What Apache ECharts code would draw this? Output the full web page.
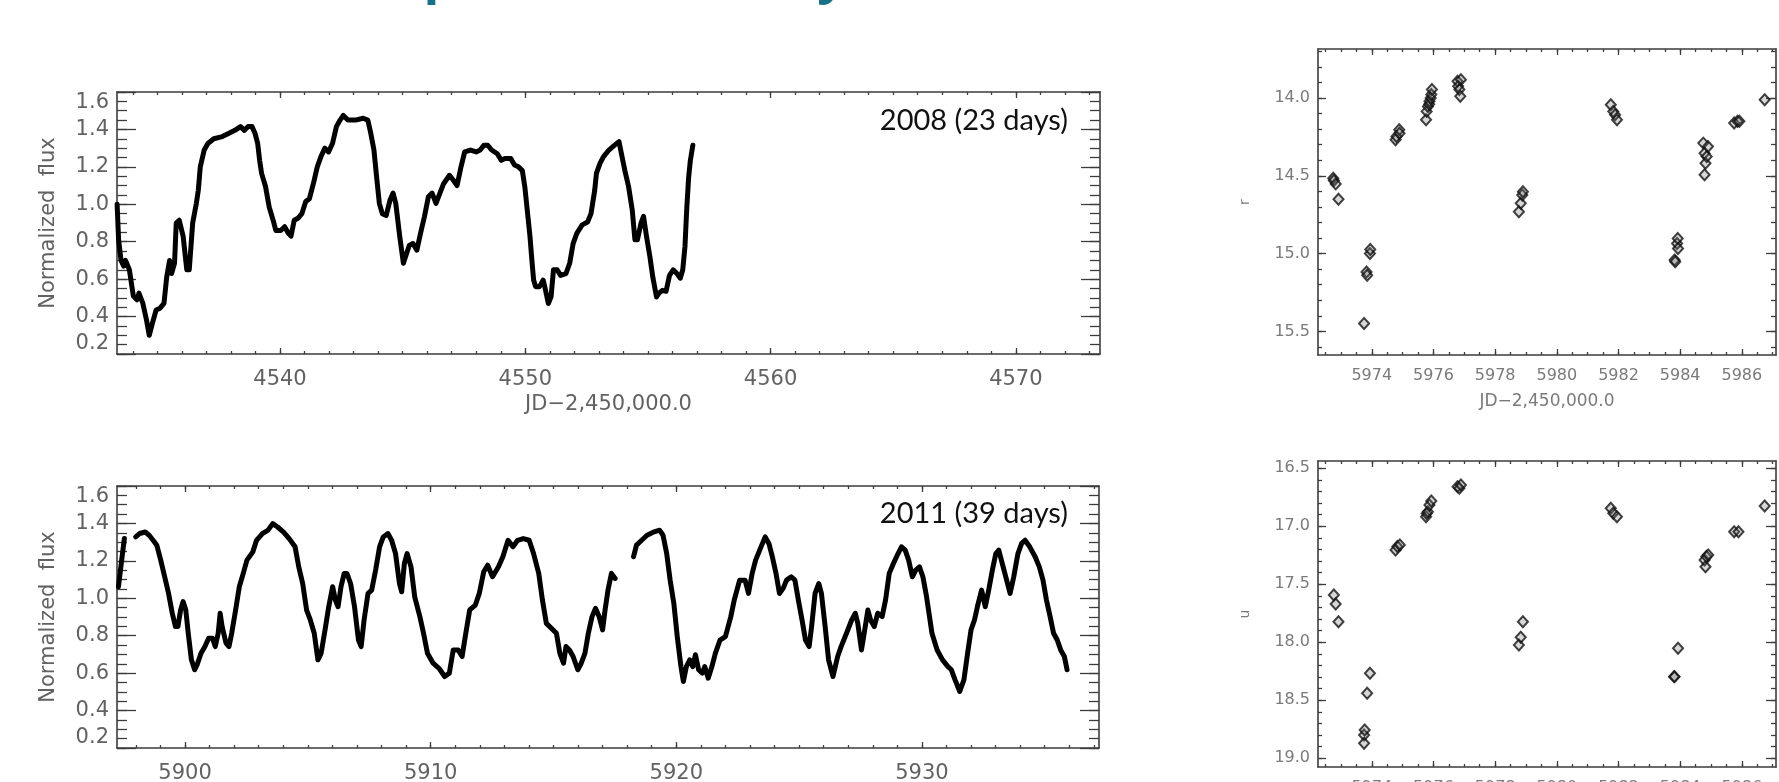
<!DOCTYPE html>
<html><head><meta charset="utf-8">
<script src="https://cdn.jsdelivr.net/npm/echarts@6/dist/echarts.min.js"></script>
<style>html,body{margin:0;padding:0;background:#fff;}#c{width:1779px;height:782px;}</style>
</head><body><div id="c"></div>
<script>
// ---------- DATA ----------
const curve2008 = [[4533.36,1.00],[4533.42,0.81],[4533.52,0.70],[4533.63,0.67],[4533.70,0.70],[4533.86,0.65],[4534.02,0.51],[4534.17,0.49],[4534.25,0.525],[4534.41,0.47],[4534.56,0.38],[4534.67,0.30],[4534.80,0.365],[4534.95,0.435],[4535.11,0.445],[4535.27,0.47],[4535.38,0.61],[4535.50,0.70],[4535.58,0.63],[4535.70,0.685],[4535.77,0.90],[4535.89,0.915],[4536.05,0.83],[4536.20,0.65],[4536.30,0.65],[4536.36,0.755],[4536.44,0.90],[4536.59,1.005],[4536.67,1.075],[4536.75,1.20],[4536.91,1.29],[4537.06,1.325],[4537.30,1.35],[4537.61,1.36],[4537.92,1.38],[4538.16,1.395],[4538.39,1.415],[4538.55,1.395],[4538.70,1.415],[4538.86,1.415],[4538.98,1.38],[4539.09,1.325],[4539.17,1.235],[4539.25,1.165],[4539.41,1.095],[4539.56,0.985],[4539.72,0.915],[4539.83,0.86],[4540.03,0.86],[4540.19,0.88],[4540.34,0.845],[4540.45,0.83],[4540.58,0.915],[4540.73,0.925],[4540.89,0.95],[4541.05,1.015],[4541.20,1.03],[4541.36,1.11],[4541.52,1.20],[4541.67,1.255],[4541.83,1.30],[4541.98,1.28],[4542.14,1.325],[4542.30,1.415],[4542.45,1.45],[4542.58,1.475],[4542.77,1.45],[4543.08,1.45],[4543.39,1.46],[4543.58,1.45],[4543.70,1.38],[4543.83,1.29],[4543.94,1.145],[4544.05,1.005],[4544.17,0.95],[4544.33,0.94],[4544.48,1.02],[4544.61,1.06],[4544.72,1.005],[4544.88,0.83],[4545.03,0.685],[4545.11,0.695],[4545.27,0.78],[4545.42,0.79],[4545.58,0.755],[4545.73,0.845],[4545.89,0.935],[4546.05,1.04],[4546.20,1.06],[4546.36,1.005],[4546.52,1.06],[4546.67,1.11],[4546.91,1.155],[4547.06,1.13],[4547.22,1.10],[4547.38,1.20],[4547.53,1.28],[4547.77,1.29],[4548.00,1.28],[4548.16,1.29],[4548.31,1.315],[4548.47,1.315],[4548.63,1.29],[4548.86,1.27],[4549.02,1.235],[4549.17,1.245],[4549.41,1.245],[4549.56,1.21],[4549.72,1.20],[4549.88,1.18],[4549.98,1.095],[4550.08,0.97],[4550.19,0.83],[4550.27,0.70],[4550.34,0.595],[4550.42,0.56],[4550.58,0.56],[4550.73,0.595],[4550.81,0.55],[4550.94,0.47],[4551.05,0.505],[4551.15,0.65],[4551.30,0.65],[4551.44,0.62],[4551.66,0.63],[4551.81,0.685],[4551.95,0.79],[4552.10,0.845],[4552.32,0.89],[4552.54,0.905],[4552.68,0.95],[4552.83,1.075],[4552.90,1.165],[4553.05,1.22],[4553.19,1.255],[4553.41,1.29],[4553.63,1.315],[4553.82,1.335],[4553.92,1.27],[4554.06,1.18],[4554.21,1.095],[4554.36,0.97],[4554.47,0.81],[4554.57,0.81],[4554.72,0.90],[4554.82,0.935],[4554.94,0.83],[4555.08,0.72],[4555.20,0.61],[4555.35,0.505],[4555.45,0.525],[4555.59,0.54],[4555.74,0.535],[4555.88,0.62],[4556.03,0.65],[4556.18,0.63],[4556.32,0.605],[4556.42,0.65],[4556.51,0.775],[4556.58,0.97],[4556.66,1.145],[4556.73,1.235],[4556.83,1.315]];

const curve2011 = [[5897.29,1.062],[5897.42,1.204],[5897.53,1.319],[5897.76,null],[5897.99,1.328],[5898.15,1.346],[5898.38,1.354],[5898.54,1.337],[5898.70,1.310],[5898.85,1.284],[5899.01,1.204],[5899.17,1.115],[5899.33,1.026],[5899.48,0.920],[5899.61,0.849],[5899.71,0.849],[5899.82,0.938],[5899.92,0.982],[5900.03,0.938],[5900.13,0.813],[5900.26,0.671],[5900.39,0.618],[5900.49,0.644],[5900.65,0.706],[5900.81,0.742],[5900.96,0.786],[5901.12,0.786],[5901.23,0.742],[5901.35,0.813],[5901.43,0.920],[5901.51,0.849],[5901.67,0.760],[5901.79,0.742],[5901.90,0.813],[5902.06,0.938],[5902.21,1.062],[5902.37,1.133],[5902.52,1.204],[5902.76,1.248],[5902.91,1.310],[5903.15,1.346],[5903.38,1.364],[5903.57,1.399],[5903.77,1.381],[5904.01,1.354],[5904.24,1.319],[5904.48,1.275],[5904.63,1.168],[5904.79,1.079],[5904.95,0.937],[5905.10,0.884],[5905.26,0.813],[5905.41,0.671],[5905.54,0.706],[5905.70,0.831],[5905.85,0.955],[5906.01,1.062],[5906.12,0.991],[5906.23,0.955],[5906.35,1.062],[5906.48,1.133],[5906.59,1.133],[5906.74,1.079],[5906.90,0.955],[5907.06,0.777],[5907.17,0.742],[5907.29,0.884],[5907.45,1.026],[5907.60,1.044],[5907.76,1.151],[5907.92,1.275],[5908.07,1.328],[5908.26,1.346],[5908.41,1.310],[5908.57,1.239],[5908.73,1.079],[5908.82,1.035],[5908.93,1.186],[5909.04,1.239],[5909.20,1.168],[5909.35,1.008],[5909.56,0.902],[5909.71,0.813],[5909.87,0.706],[5910.10,0.653],[5910.34,0.626],[5910.57,0.582],[5910.76,0.600],[5910.92,0.724],[5911.12,0.724],[5911.28,0.689],[5911.43,0.813],[5911.59,0.938],[5911.82,0.964],[5911.98,1.026],[5912.16,1.142],[5912.32,1.177],[5912.52,1.115],[5912.76,1.168],[5912.94,1.222],[5913.15,1.310],[5913.35,1.275],[5913.54,1.310],[5913.77,1.319],[5914.01,1.310],[5914.19,1.239],[5914.40,1.133],[5914.55,0.991],[5914.71,0.866],[5915.12,0.813],[5915.26,0.706],[5915.41,0.653],[5915.51,0.742],[5915.65,0.724],[5915.80,0.689],[5915.99,0.618],[5916.13,0.653],[5916.28,0.706],[5916.42,0.813],[5916.57,0.902],[5916.71,0.946],[5916.86,0.902],[5917.00,0.831],[5917.10,0.937],[5917.22,1.044],[5917.36,1.133],[5917.51,1.106],[5917.90,null],[5918.26,1.222],[5918.38,1.284],[5918.59,1.310],[5918.81,1.337],[5919.10,1.355],[5919.32,1.364],[5919.46,1.337],[5919.61,1.239],[5919.75,1.097],[5919.90,0.973],[5920.04,0.795],[5920.19,0.635],[5920.29,0.555],[5920.41,0.635],[5920.55,0.671],[5920.67,0.635],[5920.78,0.698],[5920.91,0.618],[5921.06,0.600],[5921.16,0.635],[5921.30,0.573],[5921.45,0.635],[5921.59,0.706],[5921.78,0.777],[5922.00,0.795],[5922.22,0.902],[5922.36,0.991],[5922.58,1.097],[5922.80,1.097],[5922.94,1.026],[5923.09,1.133],[5923.23,1.204],[5923.45,1.275],[5923.62,1.328],[5923.77,1.293],[5923.91,1.222],[5924.06,1.133],[5924.20,1.026],[5924.35,1.053],[5924.49,1.097],[5924.68,1.115],[5924.83,1.097],[5924.97,0.991],[5925.12,0.884],[5925.26,0.777],[5925.41,0.742],[5925.51,0.849],[5925.65,1.026],[5925.80,1.079],[5925.91,1.026],[5926.06,0.849],[5926.20,0.671],[5926.38,0.582],[5926.57,0.689],[5926.71,0.742],[5926.93,0.813],[5927.14,0.884],[5927.29,0.920],[5927.39,0.866],[5927.54,0.724],[5927.65,0.813],[5927.80,0.937],[5927.91,0.884],[5928.06,0.849],[5928.20,0.920],[5928.38,0.902],[5928.52,0.991],[5928.67,1.133],[5928.84,1.186],[5929.03,1.239],[5929.17,1.275],[5929.32,1.257],[5929.46,1.204],[5929.61,1.115],[5929.75,1.151],[5929.90,1.168],[5930.04,1.115],[5930.19,1.008],[5930.41,0.813],[5930.62,0.724],[5930.84,0.671],[5931.06,0.635],[5931.20,0.618],[5931.35,0.564],[5931.54,0.502],[5931.71,0.564],[5931.86,0.706],[5932.00,0.831],[5932.14,0.884],[5932.26,0.955],[5932.43,1.044],[5932.58,0.955],[5932.72,1.044],[5932.87,1.151],[5933.01,1.239],[5933.13,1.257],[5933.27,1.186],[5933.45,1.097],[5933.59,1.026],[5933.74,1.115],[5933.91,1.239],[5934.06,1.293],[5934.20,1.310],[5934.39,1.275],[5934.61,1.222],[5934.78,1.168],[5934.93,1.097],[5935.07,0.991],[5935.22,0.902],[5935.36,0.813],[5935.51,0.777],[5935.65,0.724],[5935.80,0.689],[5935.91,0.618]];

const rMag = [[5972.75,14.516],[5972.77,14.53],[5972.83,14.552],[5972.92,14.651],[5973.75,15.45],[5973.83,15.118],[5973.85,15.14],[5973.94,14.999],[5973.95,14.974],[5974.77,14.269],[5974.80,14.247],[5974.89,14.204],[5974.90,14.226],[5975.76,14.14],[5975.78,14.086],[5975.82,14.054],[5975.86,14.04],[5975.87,14.021],[5975.91,14.0],[5975.93,13.978],[5975.95,13.946],[5976.78,13.893],[5976.80,13.925],[5976.84,13.946],[5976.87,13.989],[5976.89,13.882],[5978.77,14.731],[5978.83,14.677],[5978.88,14.623],[5978.90,14.602],[5981.75,14.043],[5981.83,14.086],[5981.89,14.107],[5981.95,14.14],[5983.82,15.042],[5983.84,15.053],[5983.90,14.935],[5983.92,14.903],[5983.93,14.967],[5984.75,14.29],[5984.79,14.355],[5984.82,14.419],[5984.79,14.494],[5984.86,14.376],[5984.90,14.312],[5985.75,14.161],[5985.86,14.15],[5985.92,14.15],[5986.74,14.011]];

const uMag = [[5972.77,17.592],[5972.83,17.67],[5972.92,17.822],[5973.75,18.799],[5973.75,18.871],[5973.77,18.756],[5973.85,18.44],[5973.94,18.267],[5974.77,17.204],[5974.83,17.175],[5974.91,17.161],[5975.76,16.917],[5975.78,16.89],[5975.82,16.874],[5975.87,16.816],[5975.93,16.782],[5976.78,16.658],[5976.84,16.672],[5976.89,16.644],[5978.77,18.023],[5978.83,17.957],[5978.90,17.822],[5981.75,16.845],[5981.83,16.888],[5981.95,16.917],[5983.80,18.296],[5983.82,18.296],[5983.93,18.052],[5984.79,17.29],[5984.85,17.261],[5984.91,17.247],[5984.82,17.348],[5985.75,17.046],[5985.89,17.046],[5986.74,16.825]];

const ticks2008 = [4540, 4550, 4560, 4570];
const ticks2011 = [5900, 5910, 5920, 5930];
const fluxTicks = [0.2, 0.4, 0.6, 0.8, 1.0, 1.2, 1.4, 1.6];
const jdTicksRU = [5974, 5976, 5978, 5980, 5982, 5984, 5986];
const rTicks = [14.0, 14.5, 15.0, 15.5];
const uTicks = [16.5, 17.0, 17.5, 18.0, 18.5, 19.0];
const xTitle = 'JD\u22122,450,000.0';
const label2008 = '2008 (23 days)';
const label2011 = '2011 (39 days)';
const slideTitle = 'Optical variability';

// ---------- AXIS HELPERS ----------
const FRAME = '#3c3c3c';
function steps(min, max, step) {
  const out = [];
  for (let v = Math.ceil(min / step - 1e-9) * step; v <= max + 1e-9; v += step) out.push(Math.round(v * 1000) / 1000);
  return out;
}
const xAxes = [], yAxes = [];
function addAxis(list, o) { list.push(o); return list.length - 1; }

function panel(g, c) {
  const base = {type: 'value', gridIndex: g, splitLine: {show: false}, axisPointer: {show: false}, silent: true};
  const tickStyle = {color: FRAME, width: 1.3};
  const xi = addAxis(xAxes, Object.assign({}, base, {
    position: 'bottom', min: c.xMin, max: c.xMax,
    axisLine: {show: true, onZero: false, lineStyle: {color: FRAME, width: 1.6}},
    axisTick: {show: true, inside: true, length: c.xMajLen, customValues: c.xMajor, lineStyle: tickStyle},
    axisLabel: {show: c.xLabels, customValues: c.xMajor, margin: c.xLabelMargin, color: c.labelColor,
      fontFamily: 'DejaVu Sans', fontSize: c.xFont, formatter: v => String(Math.round(v))},
    name: c.xName || '', nameLocation: 'middle', nameGap: c.xNameGap || 0,
    nameTextStyle: {color: c.labelColor, fontFamily: 'DejaVu Sans', fontSize: c.xNameFont || 12}
  }));
  addAxis(xAxes, Object.assign({}, base, {position: 'bottom', min: c.xMin, max: c.xMax,
    axisLine: {show: false, onZero: false}, axisLabel: {show: false},
    axisTick: {show: true, inside: true, length: c.xMinLen, customValues: steps(c.xMin, c.xMax, c.xMinorStep), lineStyle: tickStyle}}));
  addAxis(xAxes, Object.assign({}, base, {position: 'top', min: c.xMin, max: c.xMax,
    axisLine: {show: true, onZero: false, lineStyle: {color: FRAME, width: 1.6}}, axisLabel: {show: false},
    axisTick: {show: true, inside: true, length: c.xMajLen, customValues: c.xMajor, lineStyle: tickStyle}}));
  addAxis(xAxes, Object.assign({}, base, {position: 'top', min: c.xMin, max: c.xMax,
    axisLine: {show: false, onZero: false}, axisLabel: {show: false},
    axisTick: {show: true, inside: true, length: c.xMinLen, customValues: steps(c.xMin, c.xMax, c.xMinorStep), lineStyle: tickStyle}}));
  const yi = addAxis(yAxes, Object.assign({}, base, {
    position: 'left', min: c.yMin, max: c.yMax, inverse: !!c.inverse,
    axisLine: {show: true, onZero: false, lineStyle: {color: FRAME, width: 1.6}},
    axisTick: {show: true, inside: true, length: c.yMajLen, customValues: c.yMajor, lineStyle: tickStyle},
    axisLabel: {show: true, customValues: c.yMajor, margin: c.yLabelMargin, color: c.labelColor,
      fontFamily: 'DejaVu Sans', fontSize: c.yFont, formatter: v => v.toFixed(1),
      verticalAlignMinLabel: c.edgeAlign ? 'bottom' : undefined,
      verticalAlignMaxLabel: c.edgeAlign ? 'top' : undefined},
    name: c.yName, nameLocation: 'middle', nameGap: c.yNameGap, nameRotate: 90,
    nameTextStyle: {color: c.labelColor, fontFamily: 'DejaVu Sans', fontSize: c.yNameFont}
  }));
  addAxis(yAxes, Object.assign({}, base, {position: 'left', min: c.yMin, max: c.yMax, inverse: !!c.inverse,
    axisLine: {show: false, onZero: false}, axisLabel: {show: false},
    axisTick: {show: true, inside: true, length: c.yMinLen, customValues: steps(c.yMin, c.yMax, c.yMinorStep), lineStyle: tickStyle}}));
  addAxis(yAxes, Object.assign({}, base, {position: 'right', min: c.yMin, max: c.yMax, inverse: !!c.inverse,
    axisLine: {show: true, onZero: false, lineStyle: {color: FRAME, width: 1.6}}, axisLabel: {show: false},
    axisTick: {show: true, inside: true, length: c.yMajLenR || c.yMajLen, customValues: c.yMajor, lineStyle: tickStyle}}));
  addAxis(yAxes, Object.assign({}, base, {position: 'right', min: c.yMin, max: c.yMax, inverse: !!c.inverse,
    axisLine: {show: false, onZero: false}, axisLabel: {show: false},
    axisTick: {show: true, inside: true, length: c.yMinLenR || c.yMinLen, customValues: steps(c.yMin, c.yMax, c.yMinorStep), lineStyle: tickStyle}}));
  return {xi, yi};
}

const grids = [
  {left: 117, top: 92, width: 983, height: 262},
  {left: 117, top: 486, width: 982, height: 262},
  {left: 1318, top: 49, width: 458, height: 306},
  {left: 1318, top: 461, width: 458, height: 306}
].map(g => Object.assign({containLabel: false, outerBoundsMode: 'none', show: false}, g));

const leftCommon = {
  yMin: 0.2, yMax: 1.6, yMajor: fluxTicks, yMinorStep: 0.05, yMajLen: 19, yMinLen: 10,
  xMajLen: 6, xMinLen: 3, xMinorStep: 1, xLabels: true, xLabelMargin: 15, xFont: 21,
  yLabelMargin: 8, yFont: 21, labelColor: '#626262', edgeAlign: true,
  yName: 'Normalized  flux', yNameGap: 58, yNameFont: 21
};
const p0 = panel(0, Object.assign({}, leftCommon, {xMin: 4533.355, xMax: 4573.43, xMajor: ticks2008,
  xName: xTitle, xNameGap: 40, xNameFont: 21}));
const p1 = panel(1, Object.assign({}, leftCommon, {xMin: 5897.23, xMax: 5937.21, xMajor: ticks2011}));
const rightCommon = {
  xMin: 5972.256, xMax: 5987.107, xMajor: jdTicksRU, xMinorStep: 0.5, xMajLen: 6, xMinLen: 3,
  xLabels: true, xLabelMargin: 13, xFont: 16, yMinorStep: 0.1, yMajLen: 8, yMinLen: 4, yMajLenR: 10, yMinLenR: 5,
  yLabelMargin: 8, yFont: 16, labelColor: '#7a7a7a', inverse: true, yNameGap: 66, yNameFont: 14
};
const p2 = panel(2, Object.assign({}, rightCommon, {yMin: 13.685, yMax: 15.652, yMajor: rTicks, yName: 'r',
  xName: xTitle, xNameGap: 38, xNameFont: 17}));
const p3 = panel(3, Object.assign({}, rightCommon, {yMin: 16.437, yMax: 19.075, yMajor: uTicks, yName: 'u'}));

const lineSeries = (data, p) => ({
  type: 'line', xAxisIndex: p.xi, yAxisIndex: p.yi, showSymbol: false, symbol: 'none', connectNulls: false,
  data: data.map(d => [d[0], d[1] === null ? '-' : d[1]]),
  lineStyle: {color: '#000', width: 5, join: 'round', cap: 'round'}, clip: true, z: 5, silent: true
});
const diamondSeries = (data, p) => ({
  type: 'scatter', xAxisIndex: p.xi, yAxisIndex: p.yi, symbol: 'diamond', symbolSize: [10, 11], data: data,
  itemStyle: {color: 'rgba(110,110,110,0.35)', borderColor: '#111', borderWidth: 2}, clip: true, z: 5, silent: true
});

const chart = echarts.init(document.getElementById('c'), null, {renderer: 'canvas'});
chart.setOption({
  animation: false,
  backgroundColor: '#ffffff',
  grid: grids,
  xAxis: xAxes,
  yAxis: yAxes,
  series: [lineSeries(curve2008, p0), lineSeries(curve2011, p1), diamondSeries(rMag, p2), diamondSeries(uMag, p3)],
  graphic: [
    {type: 'text', x: 382, y: -23, silent: true,
      style: {text: slideTitle, fill: '#16728a', font: 'bold 52px "Open Sans", sans-serif', verticalAlign: 'middle', align: 'left'}},
    {type: 'text', right: 1779 - 1068, top: 106, silent: true, style: {text: label2008, fill: '#111', font: '29px Lato, "Open Sans", sans-serif'}},
    {type: 'text', right: 1779 - 1068, top: 499, silent: true, style: {text: label2011, fill: '#111', font: '29px Lato, "Open Sans", sans-serif'}}
  ]
});
</script></body></html>
